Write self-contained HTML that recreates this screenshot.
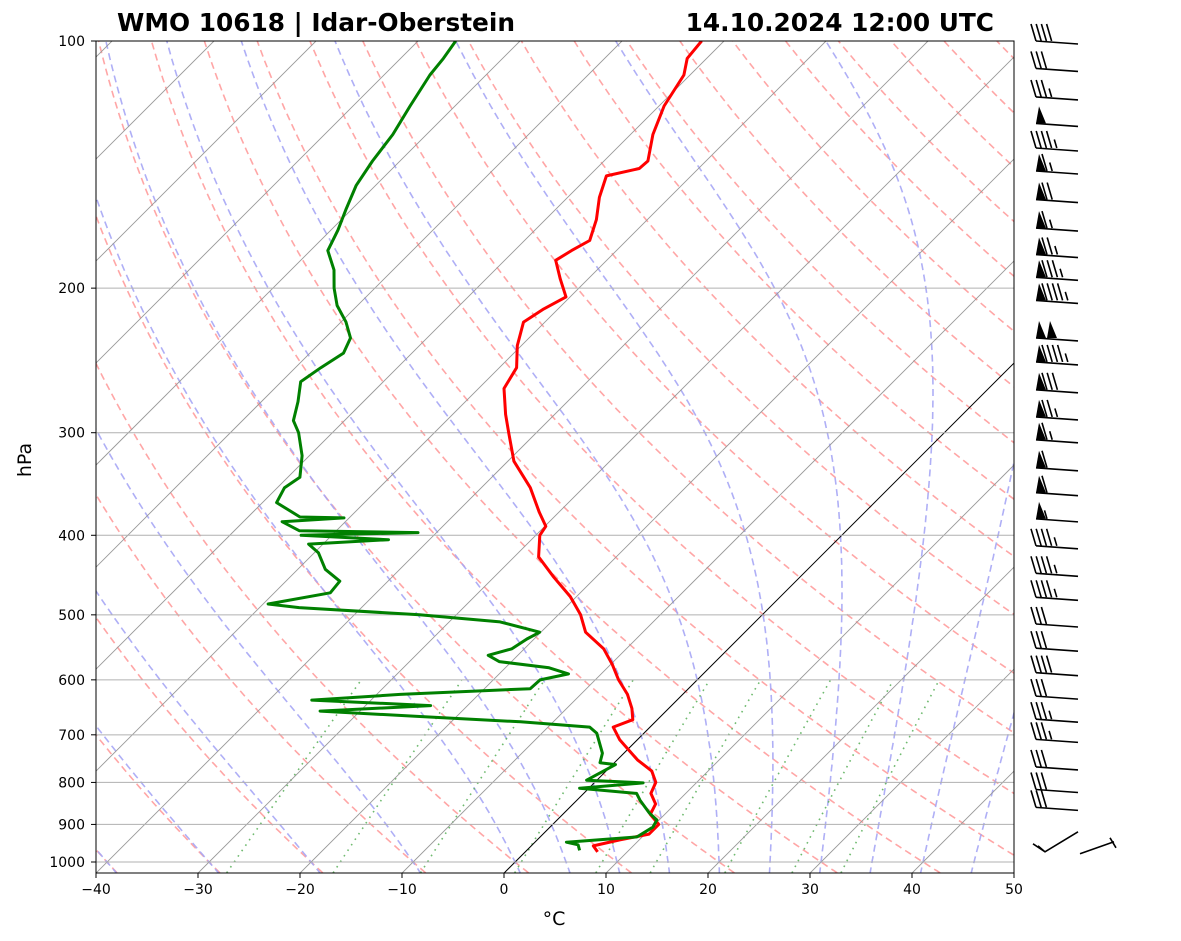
<!DOCTYPE html>
<html><head><meta charset="utf-8">
<style>
html,body{margin:0;padding:0;background:#fff;}
svg{display:block;font-family:"DejaVu Sans","Liberation Sans",sans-serif;}
</style></head>
<body>
<svg id="chart" width="1181" height="941" viewBox="0 0 1181 941" xmlns="http://www.w3.org/2000/svg">
<defs><clipPath id="plotclip"><rect x="96" y="41" width="918" height="832"/></clipPath></defs>
<text x="117" y="31" font-size="24.8" font-weight="bold">WMO 10618 | Idar-Oberstein</text>
<text x="994" y="31" font-size="24.8" font-weight="bold" text-anchor="end">14.10.2024 12:00 UTC</text>
<g id="bg" clip-path="url(#plotclip)"></g>
<g id="series" clip-path="url(#plotclip)"></g>
<rect x="96" y="41" width="918" height="832" fill="none" stroke="#000" stroke-width="1"/>
<g id="axes"></g>
<text x="0" y="0" font-size="19" text-anchor="middle" transform="translate(31,460) rotate(-90)">hPa</text>
<text x="554" y="925" font-size="19" text-anchor="middle">°C</text>
<g id="barbs"></g>
</svg>
<script>
// ---- data ----
const tempP = [100,105,110,120,130,140,143,146,155,165,175,180,185,195,205,212,220,235,250,265,285,300,325,350,375,390,400,425,450,475,500,525,550,575,600,625,650,671,685,710,751,775,800,825,850,875,900,925,940,956,972];
const tempT = [-62.2,-61.9,-60.6,-59.5,-57.8,-55.7,-55.8,-58.3,-56.9,-55,-53.6,-54.4,-55,-52.7,-50.4,-51.4,-52.1,-50.4,-48.3,-47.5,-44.8,-42.7,-39.4,-35.2,-31.9,-29.9,-29.6,-27.6,-24.1,-20.6,-17.8,-15.6,-12.2,-9.8,-7.7,-5.4,-3.6,-2.4,-3.6,-1.7,2,4.5,6,6.6,8.1,8.6,10.4,10.4,8.1,6.1,7.1];
const dewP = [100,105,110,120,130,140,150,160,170,180,190,200,210,220,230,240,250,260,275,290,300,320,340,350,365,380,381,385,395,397,400,405,410,420,440,455,470,485,490,500,510,525,535,550,560,570,580,590,600,615,625,635,645,655,665,675,685,697,737,757,761,795,801,813,825,841,872,889,907,932,946,953,968];
const dewT = [-86.3,-85.8,-85.5,-84.4,-83.3,-82.7,-81.9,-80.6,-79.3,-78.3,-75.8,-74,-72,-69.5,-67.5,-66.7,-67.5,-68.1,-66.4,-65,-63.3,-60.7,-58.8,-59.3,-58.6,-54.9,-50.5,-56.2,-53.6,-41.8,-53,-44,-51.4,-49.6,-47.3,-44.7,-44.5,-49.5,-46.1,-33.6,-25,-20.1,-20.7,-21.2,-22.9,-21.2,-15.7,-13.2,-15.4,-15.5,-27.7,-35.8,-23.6,-33.9,-23.6,-13.2,-5.9,-4.6,-2.1,-1.4,0.3,-1,4.8,-0.9,5.2,6.2,8.4,9.8,10.1,9.5,3.1,4.5,5.2];
const barbP = [100,108,117,126,135,144,156,169,182,194,207,230,246,266,287,306,331,355,382,412,445,476,513,549,588,628,670,709,766,816,858,961];
const barbKt = [40,30,35,50,45,65,70,65,75,85,95,100,95,80,75,65,60,60,55,45,45,45,30,30,40,30,35,35,30,30,30,10];
const xTicks = [-40,-30,-20,-10,0,10,20,30,40,50];
const pTicks = [100,200,300,400,500,600,700,800,900,1000];
const dryT0 = []; for (let t=-40;t<=200;t+=10) dryT0.push(t);
const moistT0 = [-40,-30,-20,-10,0,5,10,15,20,25,30,35,40,45];
const mixW = [0.0004,0.001,0.002,0.004,0.007,0.01,0.016,0.024,0.032];

// ---- axis functions ----
const NS='http://www.w3.org/2000/svg';
const Y0=41, KY=356.55, XL=96, YB=873, KX=10.2;
function yOf(p){return Y0+KY*Math.log(p/100);}
function xOf(T,p){return XL+(T+40)*KX+(YB-yOf(p));}
function mk(tag,attrs,parent){const e=document.createElementNS(NS,tag);for(const k in attrs)e.setAttribute(k,attrs[k]);parent.appendChild(e);return e;}
function pathFrom(ps,ts){let d='';for(let i=0;i<ps.length;i++){d+=(i?'L':'M')+xOf(ts[i],ps[i]).toFixed(1)+','+yOf(ps[i]).toFixed(1);}return d;}
const bg=document.getElementById('bg'), series=document.getElementById('series'), axes=document.getElementById('axes'), barbs=document.getElementById('barbs');
const Pbot=1031;
const presGrid=[];for(let p=Pbot;p>=95;p-=5)presGrid.push(p);

dryT0.forEach(t0=>{
  const th=t0+273.15;const ts=presGrid.map(p=>th*Math.pow(p/1000,0.2857)-273.15);
  const el=mk('path',{d:pathFrom(presGrid,ts),fill:'none',stroke:'#ff9c9c',"stroke-width":1.6,"stroke-dasharray":'7,4.5',opacity:0.9},bg);
  
  
});
function es(Tc){return 6.112*Math.exp(17.67*Tc/(Tc+243.5));}
function dTdp(T,p){const Rd=287.04,Cp=1005.7,Lv=2.501e6,eps=0.622;const e=es(T-273.15);const rs=eps*e/(p-e);
  return (1/p)*(Rd*T+Lv*rs)/(Cp+(Lv*Lv*rs*eps/(Rd*T*T)));}
moistT0.forEach(t0=>{
  const up=[],down=[];let T=t0+273.15;
  for(let p=1000;p>=100;p-=5){up.push([p,T-273.15]);T-=dTdp(T,p)*5;}
  T=t0+273.15;for(let p=1000;p<=Pbot+5;p+=5){down.push([p,T-273.15]);T+=dTdp(T,p)*5;}
  const pts=down.reverse().concat(up.slice(1));
  const el=mk('path',{d:pathFrom(pts.map(a=>a[0]),pts.map(a=>a[1])),fill:'none',stroke:'#a6a6f5',"stroke-width":1.6,"stroke-dasharray":'7,4.5',opacity:0.9},bg);
  
  
});
mixW.forEach(w=>{
  const ps=[],ts=[];for(let p=Pbot;p>=600;p-=5){const e=p*w/(0.622+w);const l=Math.log(e/6.112);ps.push(p);ts.push(243.5*l/(17.67-l));}
  const el=mk('path',{d:pathFrom(ps,ts),fill:'none',stroke:'#5fb25f',"stroke-width":1.6,"stroke-dasharray":'1.6,5',opacity:0.9},bg);
  
  
});
for(let t=-130;t<=50;t+=10){
  const el=mk('line',{x1:xOf(t,Pbot),y1:YB,x2:xOf(t,100),y2:Y0,stroke:t===0?'#000':'#999',"stroke-width":t===0?1:0.9},bg);
  
  
}
pTicks.forEach(p=>{
  const el=mk('line',{x1:XL,x2:1014,y1:yOf(p),y2:yOf(p),stroke:'#b0b0b0',"stroke-width":1},bg);
  
  
});
const tl=mk('path',{d:pathFrom(tempP,tempT),fill:'none',stroke:'#f00',"stroke-width":3,"stroke-linejoin":'round'},series);


const dl=mk('path',{d:pathFrom(dewP,dewT),fill:'none',stroke:'#008000',"stroke-width":3,"stroke-linejoin":'round'},series);


pTicks.forEach(p=>{
  const y=yOf(p);
  mk('line',{x1:91,x2:96,y1:y,y2:y,stroke:'#000'},axes);
  const t=mk('text',{x:85,y:y+5,"font-size":14,"text-anchor":'end'},axes);t.textContent=p;
  
  
});
xTicks.forEach(T=>{
  const x=XL+(T+40)*KX;
  mk('line',{x1:x,x2:x,y1:YB,y2:YB+5,stroke:'#000'},axes);
  const t=mk('text',{x:x,y:YB+21,"font-size":14,"text-anchor":'middle'},axes);t.textContent=(T<0?'\u2212'+(-T):T);
  
  
});
barbP.forEach((p,i)=>{
  const kt=barbKt[i];const g=mk('g',{},barbs);
  
  
  const y=yOf(p);
  if(i===barbP.length-1){
    mk('path',{d:`M1078,${y-16} L1045,${y+4} L1033,${y-4} M1045,${y+4} L1038,${y-2}`,fill:'none',stroke:'#000',"stroke-width":1.6},g);
    mk('path',{d:`M1080,${y+6} L1114,${y-6} M1110,${y-10} L1116,${y}`,fill:'none',stroke:'#000',"stroke-width":1.6},g);
    return;
  }
  const sx=1078, sy=y+3, ex=1036, ey=y;
  mk('line',{x1:sx,y1:sy,x2:ex,y2:ey,stroke:'#000',"stroke-width":1.6},g);
  let rem=Math.round(kt/5)*5, pos=0;
  const step=5.2;
  while(rem>=50){const bx=ex+pos;mk('polygon',{points:`${bx},${ey} ${bx+10},${ey} ${bx+3},${ey-17}`,fill:'#000'},g);pos+=11;rem-=50;}
  while(rem>=10){const bx=ex+pos;mk('line',{x1:bx,y1:ey,x2:bx-5,y2:ey-17,stroke:'#000',"stroke-width":1.6},g);pos+=step;rem-=10;}
  if(rem>=5){const bx=ex+pos+(pos===0?step:0);mk('line',{x1:bx,y1:ey,x2:bx-2.5,y2:ey-8.5,stroke:'#000',"stroke-width":1.6},g);}
});
</script>
</body></html>
